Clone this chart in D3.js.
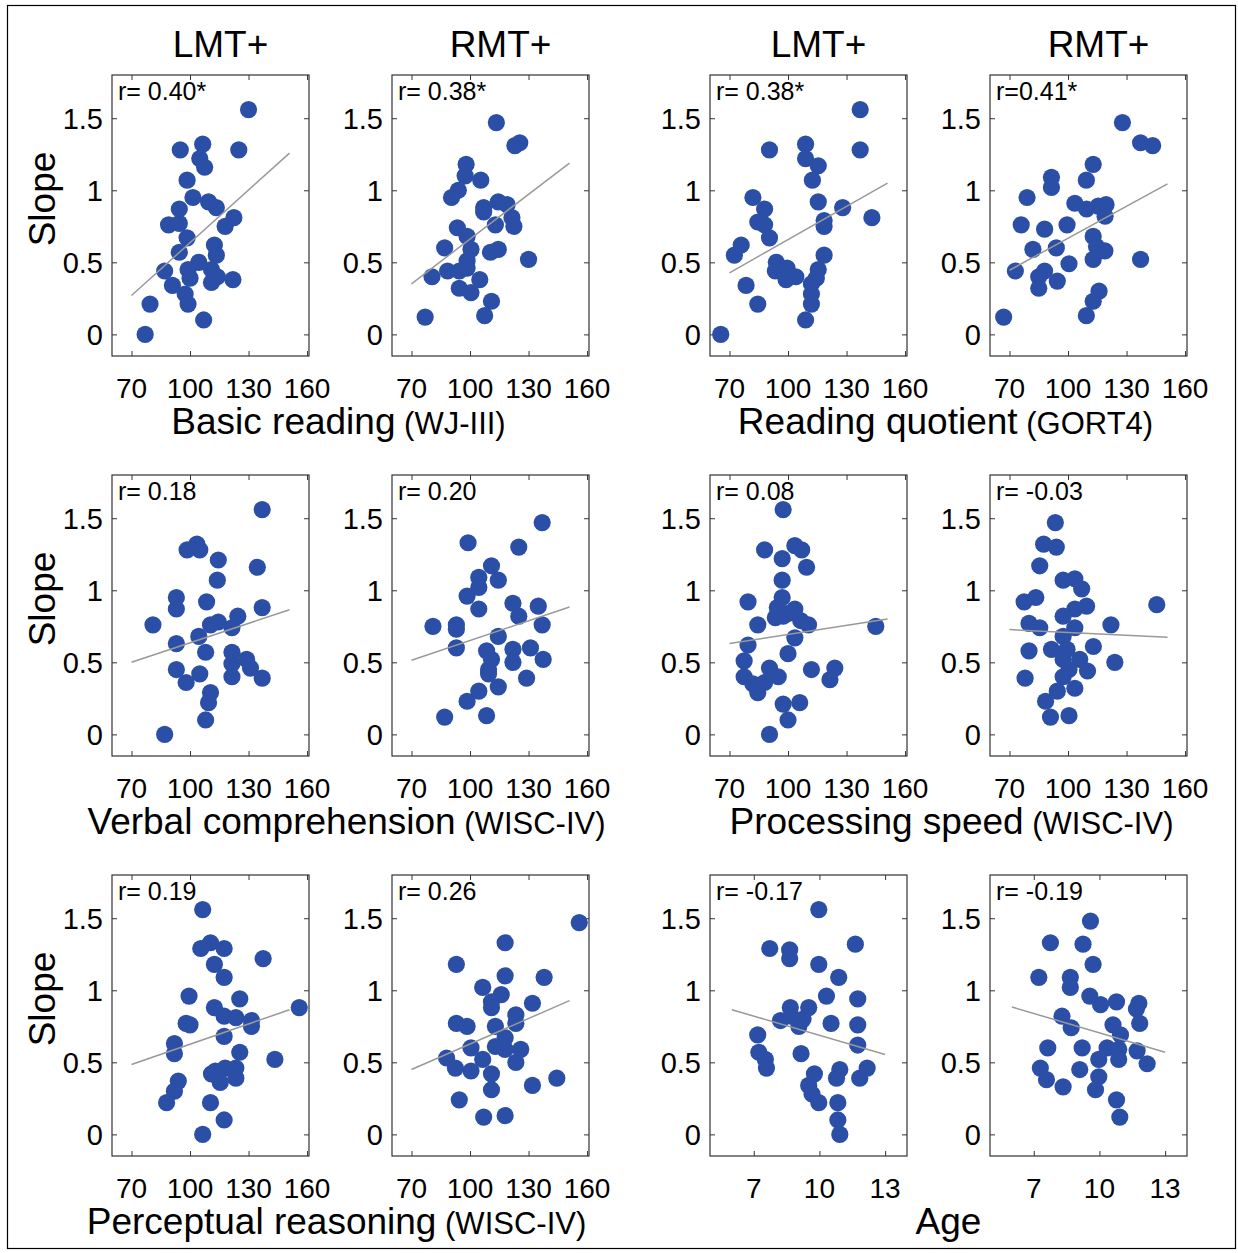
<!DOCTYPE html>
<html><head><meta charset="utf-8">
<script src="https://cdn.jsdelivr.net/npm/d3@7"></script>
<style>
body{margin:0;background:#fff}
svg{display:block}
text{font-family:"Liberation Sans",Arial,Helvetica,sans-serif;fill:#000}
</style>
</head><body>
<svg id="chart" width="1238" height="1253"></svg>
<script>
// ---------- data ----------
const columnTitles = ["LMT+", "RMT+", "LMT+", "RMT+"];
const measureNames = ["Basic reading", "Reading quotient", "Verbal comprehension", "Processing speed", "Perceptual reasoning", "Age"];
const measureSources = ["(WJ-III)", "(GORT4)", "(WISC-IV)", "(WISC-IV)", "(WISC-IV)", ""];
const rLabels = ["r= 0.40*", "r= 0.38*", "r= 0.38*", "r=0.41*",
                 "r= 0.18", "r= 0.20", "r= 0.08", "r= -0.03",
                 "r= 0.19", "r= 0.26", "r= -0.17", "r= -0.19"];
const slopeTicks = [0, 0.5, 1, 1.5];
const scoreTicks = [70, 100, 130, 160];
const ageTicks = [7, 10, 13];
const yAxisLabel = "Slope";

const basicReadingLMT = [[130,1.56],[95,1.28],[106.5,1.32],[125,1.28],[105,1.22],[107.5,1.16],[98.5,1.07],[101.5,0.95],[109.5,0.92],[113.5,0.88],[94.5,0.87],[89,0.76],[94.5,0.77],[122.5,0.81],[118,0.75],[98.5,0.67],[112.5,0.62],[113.5,0.55],[94.5,0.57],[104.5,0.50],[87,0.44],[99,0.45],[100,0.39],[111,0.45],[111,0.36],[114,0.40],[122,0.38],[91,0.34],[97.5,0.28],[99,0.21],[79.5,0.21],[107,0.10],[77,0]];
const basicReadingRMT = [[113.5,1.47],[123,1.31],[125.5,1.33],[98,1.18],[97.5,1.10],[105.5,1.07],[94,1.00],[90.5,0.95],[107,0.88],[114.5,0.92],[119,0.90],[107,0.85],[113,0.76],[121.5,0.81],[122.5,0.75],[93.5,0.74],[98.5,0.68],[87,0.60],[100.5,0.59],[110.5,0.57],[114.5,0.59],[98.5,0.51],[130,0.52],[80.5,0.40],[88.5,0.44],[94.5,0.44],[98.5,0.46],[105,0.38],[94.5,0.32],[100.5,0.29],[111,0.23],[107.5,0.13],[77,0.12]];
const readingQuotientLMT = [[137,1.56],[90.5,1.28],[109,1.32],[137,1.28],[109,1.22],[115.5,1.17],[112.5,1.07],[82,0.95],[88,0.87],[84.5,0.78],[88,0.76],[90.5,0.67],[115.5,0.92],[128,0.88],[143,0.81],[118.5,0.79],[118.5,0.75],[76,0.62],[72.5,0.55],[118.5,0.55],[94,0.50],[93.5,0.44],[99.5,0.46],[99,0.38],[104,0.40],[115.5,0.45],[114.5,0.39],[112,0.35],[112,0.28],[112,0.21],[78.5,0.34],[84.5,0.21],[109,0.10],[65.5,0]];
const readingQuotientRMT = [[127.9,1.47],[137.2,1.33],[143.4,1.31],[112.9,1.18],[109.4,1.07],[91.5,1.09],[91.5,1.02],[79,0.95],[103.5,0.91],[109.5,0.87],[115.5,0.89],[119.5,0.90],[119,0.82],[76,0.76],[88,0.73],[99.5,0.76],[112.9,0.68],[82,0.59],[94,0.60],[114.6,0.61],[118.9,0.58],[112.9,0.52],[100.5,0.49],[137.2,0.52],[73,0.44],[88,0.44],[85,0.40],[94.5,0.37],[85,0.32],[115.9,0.30],[112.9,0.23],[109.4,0.13],[67,0.12]];
const verbalCompLMT = [[137,1.56],[98.5,1.28],[103.5,1.32],[105,1.28],[114.5,1.21],[134.5,1.16],[114,1.07],[93,0.95],[93,0.87],[108.5,0.92],[137,0.88],[81,0.76],[124.5,0.82],[114.5,0.78],[110.5,0.76],[121.5,0.74],[104.5,0.68],[93,0.63],[108,0.57],[121.5,0.57],[129,0.52],[121.5,0.49],[131,0.46],[93,0.45],[98,0.36],[105,0.42],[121.5,0.40],[137,0.39],[110.5,0.29],[109.5,0.22],[108,0.10],[87,0]];
const verbalCompRMT = [[137,1.47],[99,1.33],[125,1.30],[111,1.17],[104.5,1.09],[114.5,1.07],[104.5,1.02],[98.5,0.96],[122,0.91],[104.5,0.87],[135,0.89],[125,0.82],[81,0.75],[93,0.76],[137,0.76],[93,0.73],[114.5,0.68],[93,0.60],[108.5,0.58],[122,0.59],[131,0.60],[111,0.52],[137.5,0.52],[122,0.50],[109.5,0.45],[109.5,0.42],[129,0.39],[114.5,0.33],[104.5,0.30],[98.5,0.23],[87,0.12],[108.5,0.13]];
const procSpeedLMT = [[97.5,1.56],[88,1.28],[103.5,1.31],[107,1.28],[97,1.22],[109.5,1.16],[97,1.07],[79.5,0.92],[97,0.95],[94.5,0.88],[103.5,0.87],[97.5,0.82],[93.5,0.81],[100,0.84],[84.5,0.76],[106.5,0.79],[110.5,0.76],[145,0.75],[103.5,0.67],[79.5,0.62],[100,0.56],[77.5,0.51],[77.5,0.40],[90.5,0.46],[95,0.40],[82,0.35],[88,0.36],[84.5,0.29],[112,0.45],[124,0.46],[121.5,0.38],[97.5,0.21],[106,0.22],[100,0.10],[90.5,0]];
const procSpeedRMT = [[93.5,1.47],[87.5,1.32],[94,1.30],[85.5,1.17],[97.5,1.07],[103.5,1.08],[107,1.01],[83.5,0.95],[77.5,0.92],[109.5,0.89],[103.5,0.87],[145.5,0.90],[97.5,0.82],[80,0.77],[85.5,0.74],[103.5,0.74],[122,0.76],[97.5,0.68],[80,0.58],[91.5,0.59],[99.5,0.59],[113,0.61],[97.5,0.52],[106,0.52],[124,0.50],[100.5,0.45],[110,0.44],[97.5,0.40],[78,0.39],[103.5,0.32],[94.5,0.30],[88.5,0.23],[91,0.12],[100.5,0.13]];
const percReasoningLMT = [[106.5,1.56],[110.5,1.33],[105.5,1.29],[117.5,1.29],[137.5,1.22],[112.5,1.18],[117.5,1.09],[99.5,0.96],[125.5,0.94],[156,0.88],[112.5,0.88],[117.5,0.82],[123.5,0.81],[131.5,0.79],[131.5,0.75],[98,0.77],[100,0.76],[117.5,0.68],[92,0.63],[92,0.56],[125.5,0.57],[143.5,0.52],[123.5,0.46],[111,0.42],[113,0.44],[118,0.46],[115.5,0.36],[123.5,0.39],[94,0.37],[92,0.30],[88,0.22],[110.5,0.22],[117.5,0.10],[106.5,0]];
const percReasoningRMT = [[156,1.47],[118,1.33],[93,1.18],[118,1.10],[138,1.09],[106.5,1.02],[116,0.97],[111,0.92],[111,0.88],[132,0.91],[123.5,0.83],[93,0.77],[98.5,0.75],[113,0.75],[123.5,0.77],[118,0.67],[100.5,0.60],[113,0.61],[118,0.59],[126,0.59],[88,0.53],[106.5,0.52],[123.5,0.50],[92.5,0.46],[100.5,0.44],[111,0.42],[144.5,0.39],[132,0.34],[111,0.31],[94.5,0.24],[107,0.12],[118,0.13]];
const ageLMT = [[9.97,1.56],[7.73,1.29],[8.64,1.28],[8.64,1.22],[11.64,1.32],[9.97,1.18],[10.88,1.09],[10.32,0.96],[11.75,0.94],[8.67,0.88],[9.51,0.88],[8.22,0.79],[8.71,0.82],[9.25,0.80],[9.06,0.75],[10.53,0.77],[11.75,0.76],[7.18,0.69],[11.75,0.62],[7.23,0.57],[7.53,0.52],[7.58,0.46],[9.16,0.56],[9.77,0.42],[10.93,0.45],[10.78,0.39],[12.18,0.46],[11.84,0.39],[9.51,0.34],[9.66,0.28],[9.97,0.22],[10.84,0.22],[10.84,0.10],[10.93,0]];
const ageRMT = [[9.59,1.48],[7.76,1.33],[9.25,1.32],[9.71,1.18],[7.23,1.09],[8.67,1.09],[8.67,1.02],[9.56,0.96],[10.05,0.90],[10.78,0.92],[11.8,0.91],[11.69,0.87],[11.84,0.77],[8.29,0.82],[8.71,0.74],[10.62,0.76],[10.96,0.69],[7.64,0.60],[9.21,0.60],[10.35,0.60],[10.88,0.59],[11.72,0.58],[9.97,0.52],[10.88,0.52],[12.18,0.49],[7.3,0.46],[7.58,0.38],[9.1,0.45],[9.97,0.40],[8.34,0.33],[9.82,0.31],[10.78,0.24],[10.93,0.12]];

// regression line values at the start and end of its x range
const fitEnds = [[0.27,1.258],[0.351,1.189],[0.427,1.050],[0.445,1.045],
                 [0.501,0.865],[0.515,0.884],[0.630,0.801],[0.727,0.674],
                 [0.485,0.865],[0.450,0.928],[0.865,0.554],[0.884,0.570]];
const scoreFitRange = [70, 151];
const ageFitRange = [6, 13];

const scoreDomain = [60, 161];
const ageDomain = [5, 14];
const slopeDomain = [-0.15, 1.8];

// ---------- layout ----------
const panelLefts = [112, 392, 710, 990];
const panelTops = [75, 475, 875];
const PW = 197, PH = 281;
const dotColor = "#2b4fa6";
const labelShift = [-12, -3, -4, 3, -14, 0];

const datasets = [basicReadingLMT, basicReadingRMT, readingQuotientLMT, readingQuotientRMT,
                  verbalCompLMT, verbalCompRMT, procSpeedLMT, procSpeedRMT,
                  percReasoningLMT, percReasoningRMT, ageLMT, ageRMT];

const svg = d3.select("#chart");
svg.append("rect").attr("x", 7.5).attr("y", 5.5).attr("width", 1228).attr("height", 1243)
   .attr("fill", "none").attr("stroke", "#000").attr("stroke-width", 1.2);

const y = d3.scaleLinear().domain(slopeDomain).range([PH, 0]);

datasets.forEach((data, i) => {
  const row = Math.floor(i / 4), col = i % 4;
  const isAge = row === 2 && col >= 2;
  const x = d3.scaleLinear().domain(isAge ? ageDomain : scoreDomain).range([0, PW]);
  const ticks = isAge ? ageTicks : scoreTicks;
  const g = svg.append("g").attr("transform", `translate(${panelLefts[col]},${panelTops[row]})`);

  // inward ticks on all sides
  const tl = 5;
  g.append("g").call(d3.axisBottom(x).tickValues(ticks).tickSize(-tl).tickFormat("")).attr("transform", `translate(0,${PH})`);
  g.append("g").call(d3.axisTop(x).tickValues(ticks).tickSize(-tl).tickFormat(""));
  g.append("g").call(d3.axisLeft(y).tickValues(slopeTicks).tickSize(-tl).tickFormat(""));
  g.append("g").call(d3.axisRight(y).tickValues(slopeTicks).tickSize(-tl).tickFormat("")).attr("transform", `translate(${PW},0)`);
  g.selectAll(".domain").remove();
  g.selectAll(".tick line").attr("stroke", "#333").attr("stroke-width", 1);

  // tick labels
  g.selectAll(".xlab").data(ticks).join("text")
    .attr("x", d => x(d)).attr("y", PH + 42)
    .attr("text-anchor", "middle").attr("font-size", 28).text(d => d);
  g.selectAll(".ylab").data(slopeTicks).join("text")
    .attr("x", -9).attr("y", d => y(d)).attr("dy", "0.36em")
    .attr("text-anchor", "end").attr("font-size", 29).text(d => d);

  // dots
  g.selectAll("circle").data(data).join("circle")
    .attr("cx", d => x(d[0])).attr("cy", d => y(d[1])).attr("r", 8.6)
    .attr("fill", dotColor);

  // fit line
  const fr = isAge ? ageFitRange : scoreFitRange;
  g.append("line")
    .attr("x1", x(fr[0])).attr("y1", y(fitEnds[i][0]))
    .attr("x2", x(fr[1])).attr("y2", y(fitEnds[i][1]))
    .attr("stroke", "#999").attr("stroke-width", 1.5);

  // frame
  g.append("rect").attr("width", PW).attr("height", PH)
    .attr("fill", "none").attr("stroke", "#333").attr("stroke-width", 1.2);

  // r label
  g.append("text").attr("x", 6).attr("y", 25).attr("font-size", 25).text(rLabels[i]);

  if (row === 0) {
    g.append("text").attr("x", PW / 2 + 10).attr("y", -18).attr("text-anchor", "middle")
      .attr("font-size", 37).text(columnTitles[col]);
  }
  if (col === 0) {
    g.append("text").attr("transform", `translate(-57,${124}) rotate(-90)`)
      .attr("text-anchor", "middle").attr("font-size", 37).text(yAxisLabel);
  }
});

// measure labels under each panel pair
for (let row = 0; row < 3; row++) {
  for (let pair = 0; pair < 2; pair++) {
    const m = row * 2 + pair;
    const cx = (panelLefts[pair * 2] + panelLefts[pair * 2 + 1] + PW) / 2 + labelShift[m];
    const t = svg.append("text").attr("x", cx).attr("y", panelTops[row] + PH + 78)
      .attr("text-anchor", "middle").attr("font-size", 37);
    t.append("tspan").text(measureNames[m]);
    if (measureSources[m]) t.append("tspan").attr("font-size", 31).text(" " + measureSources[m]);
  }
}
</script>
</body></html>
